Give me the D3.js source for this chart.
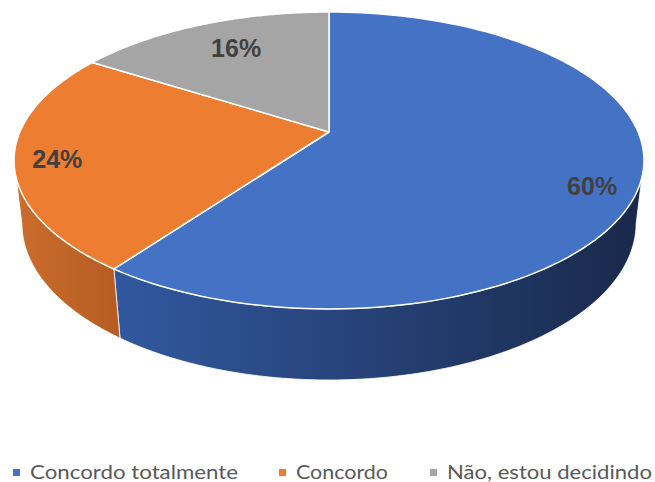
<!DOCTYPE html>
<html><head><meta charset="utf-8">
<script src="https://cdn.jsdelivr.net/npm/d3@7"></script>
<style>body{margin:0;background:#fff}</style>
</head><body>
<svg id="c" width="655" height="482"></svg>
<script>
const categories = ["Concordo totalmente", "Concordo", "Não, estou decidindo"];
const values = [60, 24, 16];
const labels = ["60%", "24%", "16%"];
const colors = ["#4472C4", "#ED7D31", "#A5A5A5"];
const sideColors = [["#31589E", "#19294B"], ["#CB6D2C", "#B55C23"], ["#858585", "#6A6A6A"]];

const svg = d3.select("#c");
// perspective projection of the pie disc
const cx = 329, cy = 132, R = 309.1, S = 143, k = 0.192, A = 63.5, B = -0.0247;
function proj(t, r, depth) {
  const X = r * Math.sin(t), Z = -r * Math.cos(t);
  const w = 1 - k * Z - (depth ? B : 0);
  return [cx + R * X / w, cy + (S * Z + (depth ? A : 0)) / w];
}
const pie = d3.pie().sort(null).value(d => d)(values);
const arcPts = (a0, a1, depth) => d3.range(0, 121).map(i => proj(a0 + (a1 - a0) * i / 120, 1, depth));

const defs = svg.append("defs");
sideColors.forEach((c, i) => {
  const g = defs.append("linearGradient").attr("id", "sg" + i)
    .attr("gradientUnits", "userSpaceOnUse")
    .attr("x1", i === 0 ? 120 : 15).attr("x2", i === 0 ? 640 : 120).attr("y1", 0).attr("y2", 0);
  g.append("stop").attr("offset", 0).attr("stop-color", c[0]);
  g.append("stop").attr("offset", 1).attr("stop-color", c[1]);
});

// visible front range of the side wall
const vis0 = Math.PI / 2 + Math.asin(k), vis1 = 1.5 * Math.PI - Math.asin(k);
const line = d3.line();
pie.forEach((p, i) => {
  const a0 = Math.max(p.startAngle, vis0), a1 = Math.min(p.endAngle, vis1);
  if (a1 <= a0) return;
  const pts = arcPts(a0, a1, false).concat(arcPts(a0, a1, true).reverse());
  svg.append("path").attr("d", line(pts) + "Z")
    .attr("fill", `url(#sg${i})`).attr("stroke", "#fff").attr("stroke-width", 1).attr("stroke-opacity", 0.8);
});

// top faces
pie.forEach((p, i) => {
  const pts = [proj(0, 0, false)].concat(arcPts(p.startAngle, p.endAngle, false));
  svg.append("path").attr("d", line(pts) + "Z")
    .attr("fill", colors[i]).attr("stroke", "#fff").attr("stroke-width", 1.5).attr("stroke-linejoin", "round");
});

// data labels
const labelR = [0.85, 0.867, 0.697], labelDy = [23, 12, 3];
pie.forEach((p, i) => {
  const m = (p.startAngle + p.endAngle) / 2;
  const [x, y] = proj(m, labelR[i], false);
  svg.append("text").attr("x", x).attr("y", y + labelDy[i])
    .attr("text-anchor", "middle")
    .attr("font-family", "'Liberation Sans', Arial, sans-serif")
    .attr("font-weight", "bold").attr("font-size", 25).attr("fill", "#404040")
    .text(labels[i]);
});

// legend
const legX = [13, 279, 430], legW = [208, 92, 205];
const lg = svg.append("g");
categories.forEach((c, i) => {
  lg.append("rect").attr("x", legX[i]).attr("y", 469).attr("width", 7).attr("height", 7).attr("fill", colors[i]);
  const t = lg.append("text").attr("x", legX[i] + 17).attr("y", 479)
    .attr("font-family", "Lato, 'Open Sans', sans-serif").attr("font-size", 18.5).attr("fill", "#595959")
    .text(c);
  const L = t.node().getComputedTextLength();
  if (Math.abs(L - legW[i]) > 3) t.attr("textLength", legW[i]).attr("lengthAdjust", "spacingAndGlyphs");
});
</script>
</body></html>
